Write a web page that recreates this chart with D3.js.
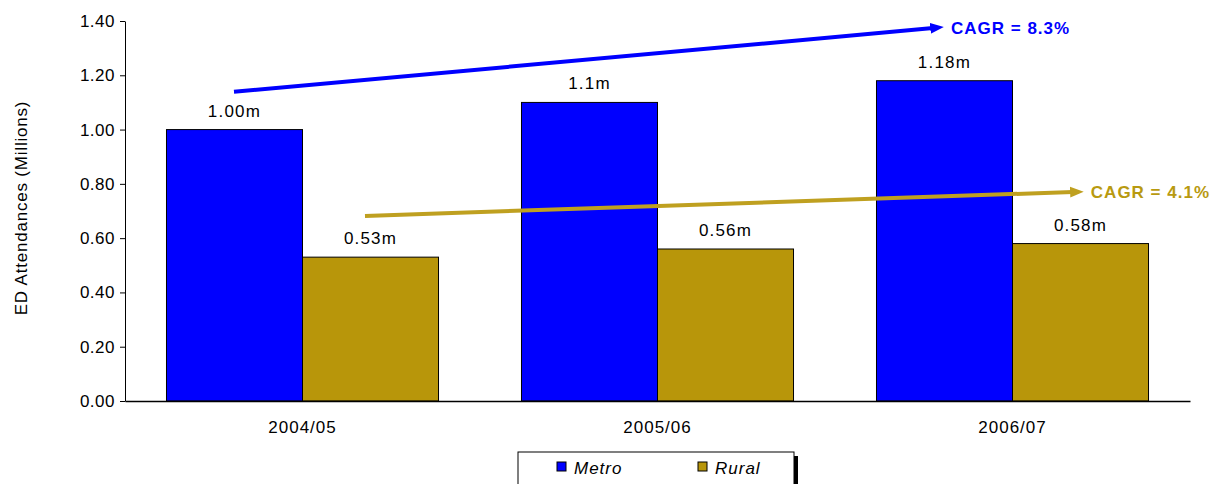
<!DOCTYPE html>
<html>
<head>
<meta charset="utf-8">
<script src="https://cdn.jsdelivr.net/npm/d3@7"></script>
<style>
  body { margin: 0; background: #fff; }
  svg { display: block; font-family: "Liberation Sans", Arial, sans-serif; }
</style>
</head>
<body>
<div id="graph"></div>
<script>
const years = ["2004/05", "2005/06", "2006/07"]
const metro = [1.00, 1.10, 1.18]
const rural = [0.53, 0.56, 0.58]
const metroLabels = ["1.00m", "1.1m", "1.18m"]
const ruralLabels = ["0.53m", "0.56m", "0.58m"]
const yTicks = [0, 0.2, 0.4, 0.6, 0.8, 1.0, 1.2, 1.4]

// CAGR arrows, in (category position, value) units
const metroArrow = { x0: 0.307, y0: 1.139, x1: 2.276, y1: 1.374, label: "CAGR = 8.3%" }
const ruralArrow = { x0: 0.676, y0: 0.682, x1: 2.670, y1: 0.770, label: "CAGR = 4.1%" }

const width = 1212
const height = 484
const mLeft = 125, mRight = 1190, mTop = 21, mBottom = 401

const blue = "#0000ff"
const gold = "#b8960a"

const svg = d3.select("#graph").append("svg")
    .attr("width", width)
    .attr("height", height)

const x = d3.scaleBand()
    .domain(years)
    .range([mLeft, mRight])
    .paddingInner(0)
    .paddingOuter(0)

const inner = d3.scaleBand()
    .domain(["metro", "rural"])
    .range([0, x.bandwidth()])
    .paddingOuter(0.305)
    .paddingInner(0)

const y = d3.scaleLinear()
    .domain([0, 1.4])
    .range([mBottom, mTop])

const xPos = d3.scaleLinear().domain([0, 3]).range([mLeft, mRight])

// Bars
const groups = svg.append("g")
    .selectAll("g")
    .data(years)
    .join("g")
    .attr("transform", d => `translate(${x(d)},0)`)

groups.append("rect")
    .attr("x", inner("metro"))
    .attr("y", (d, i) => y(metro[i]))
    .attr("width", inner.bandwidth())
    .attr("height", (d, i) => y(0) - y(metro[i]))
    .attr("fill", blue)
    .attr("stroke", "#000")
    .attr("stroke-width", 1)

groups.append("rect")
    .attr("x", inner("rural"))
    .attr("y", (d, i) => y(rural[i]))
    .attr("width", inner.bandwidth())
    .attr("height", (d, i) => y(0) - y(rural[i]))
    .attr("fill", gold)
    .attr("stroke", "#000")
    .attr("stroke-width", 1)

groups.append("text")
    .attr("x", inner("metro") + inner.bandwidth() / 2)
    .attr("y", (d, i) => y(metro[i]) - 13)
    .attr("text-anchor", "middle")
    .attr("font-size", 17)
    .attr("letter-spacing", 1.2)
    .text((d, i) => metroLabels[i])

groups.append("text")
    .attr("x", inner("rural") + inner.bandwidth() / 2)
    .attr("y", (d, i) => y(rural[i]) - 13)
    .attr("text-anchor", "middle")
    .attr("font-size", 17)
    .attr("letter-spacing", 1.2)
    .text((d, i) => ruralLabels[i])

// Y axis
const yAxis = svg.append("g")
    .attr("transform", `translate(${mLeft},0)`)
    .call(d3.axisLeft(y).tickValues(yTicks).tickFormat(d3.format(".2f")).tickSize(5).tickSizeOuter(0).tickPadding(5))
yAxis.selectAll("text")
    .attr("font-size", 17)
    .attr("letter-spacing", 0.5)
    .attr("fill", "#000")
    .attr("font-family", "Liberation Sans, Arial, sans-serif")
yAxis.selectAll("line, path").attr("stroke", "#000")

// X axis
const xAxis = svg.append("g")
    .attr("transform", `translate(0,${mBottom})`)
    .call(d3.axisBottom(x).tickSize(0).tickSizeOuter(0).tickPadding(20))
xAxis.selectAll("text")
    .attr("font-size", 17)
    .attr("letter-spacing", 1)
    .attr("fill", "#000")
    .attr("font-family", "Liberation Sans, Arial, sans-serif")
xAxis.select("path").attr("stroke", "#000").attr("stroke-width", 1.5)

svg.append("text")
    .attr("transform", `translate(27,${(mTop + mBottom) / 2 - 3}) rotate(-90)`)
    .attr("text-anchor", "middle")
    .attr("font-size", 17)
    .attr("letter-spacing", 0.8)
    .text("ED Attendances (Millions)")

// CAGR arrows
const defs = svg.append("defs")
function arrow(a, color, id, textColor) {
    defs.append("marker")
        .attr("id", id)
        .attr("viewBox", "0 0 10 10")
        .attr("refX", 2).attr("refY", 5)
        .attr("markerWidth", 3.4).attr("markerHeight", 3.4)
        .attr("orient", "auto")
        .append("path")
        .attr("d", "M0,1 L10,5 L0,9 z")
        .attr("fill", color)
    svg.append("line")
        .attr("x1", xPos(a.x0)).attr("y1", y(a.y0))
        .attr("x2", xPos(a.x1)).attr("y2", y(a.y1))
        .attr("stroke", color)
        .attr("stroke-width", 4)
        .attr("marker-end", `url(#${id})`)
    svg.append("text")
        .attr("x", xPos(a.x1) + 18)
        .attr("y", y(a.y1) + 6)
        .attr("font-size", 17)
        .attr("letter-spacing", 1)
        .attr("font-weight", "bold")
        .attr("fill", textColor)
        .text(a.label)
}
arrow(metroArrow, blue, "arrowBlue", blue)
arrow(ruralArrow, "#bfa020", "arrowGold", "#b89a10")

// Legend
const legend = svg.append("g").attr("transform", "translate(518,452)")
legend.append("rect")
    .attr("x", 4).attr("y", 4)
    .attr("width", 276).attr("height", 40)
    .attr("fill", "#000")
legend.append("rect")
    .attr("x", 0).attr("y", 0)
    .attr("width", 276).attr("height", 40)
    .attr("fill", "#fff")
    .attr("stroke", "#000")
    .attr("stroke-width", 1)

const legendItems = [
    { name: "Metro", color: blue, x: 39 },
    { name: "Rural", color: gold, x: 180 }
]
legendItems.forEach(d => {
    legend.append("rect")
        .attr("x", d.x).attr("y", 10)
        .attr("width", 9).attr("height", 9)
        .attr("fill", d.color)
        .attr("stroke", "#000")
        .attr("stroke-width", 1)
    legend.append("text")
        .attr("x", d.x + 17).attr("y", 22)
        .attr("font-size", 17)
        .attr("letter-spacing", 1)
        .attr("font-style", "italic")
        .text(d.name)
})
</script>
</body>
</html>
